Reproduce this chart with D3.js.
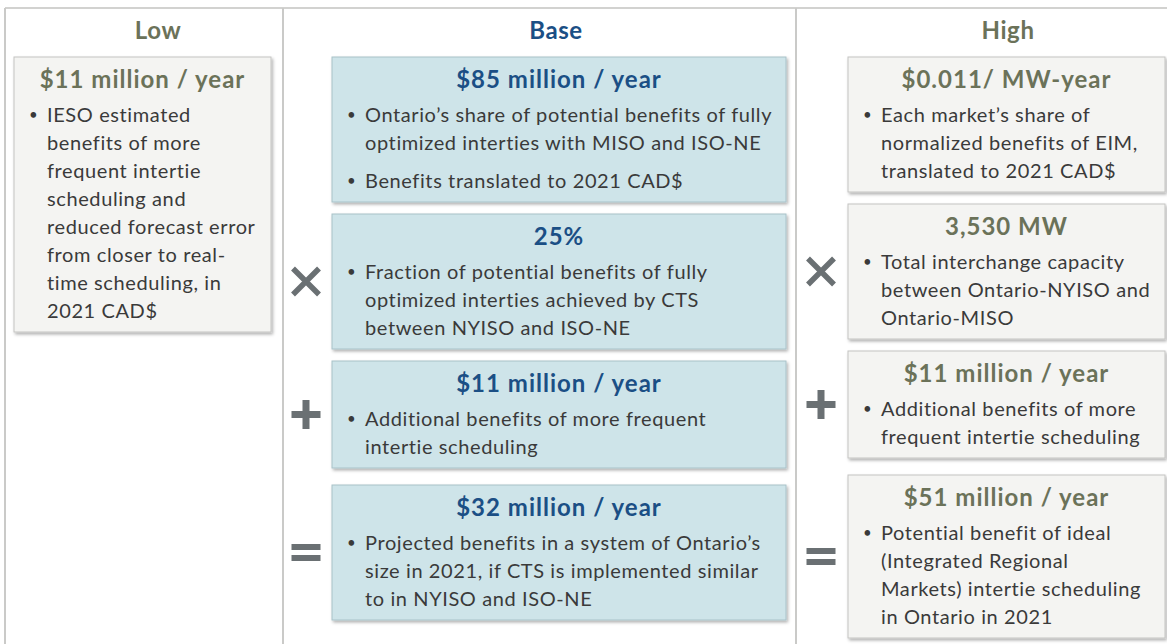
<!DOCTYPE html>
<meta charset="utf-8">
<style>
body { margin: 0; background: #fff; }
svg { display: block; font-family: Lato, "Open Sans", sans-serif; }
.head { font-weight: bold; font-size: 24px; letter-spacing: 0.6px; text-anchor: middle; }
.title { font-weight: bold; font-size: 24px; letter-spacing: 1px; text-anchor: middle; }
.body { font-size: 20px; letter-spacing: 0.6px; fill: #3a3a3a; }
</style>
<svg width="1167" height="644"></svg>
<script src="https://d3js.org/d3.v7.min.js"></script>
<script>

// ---- data ----
var headers = ["Low", "Base", "High"];

var lowBoxes = [
  {title: "$11 million / year",
   bullets: [["IESO estimated", "benefits of more", "frequent intertie", "scheduling and",
              "reduced forecast error", "from closer to real-", "time scheduling, in", "2021 CAD$"]]}
];

var baseBoxes = [
  {title: "$85 million / year",
   bullets: [["Ontario\u2019s share of potential benefits of fully", "optimized interties with MISO and ISO-NE"],
             ["Benefits translated to 2021 CAD$"]]},
  {title: "25%",
   bullets: [["Fraction of potential benefits of fully", "optimized interties achieved by CTS",
              "between NYISO and ISO-NE"]]},
  {title: "$11 million / year",
   bullets: [["Additional benefits of more frequent", "intertie scheduling"]]},
  {title: "$32 million / year",
   bullets: [["Projected benefits in a system of Ontario\u2019s", "size in 2021, if CTS is implemented similar",
              "to in NYISO and ISO-NE"]]}
];

var highBoxes = [
  {title: "$0.011/ MW-year",
   bullets: [["Each market\u2019s share of", "normalized benefits of EIM,", "translated to 2021 CAD$"]]},
  {title: "3,530 MW",
   bullets: [["Total interchange capacity", "between Ontario-NYISO and", "Ontario-MISO"]]},
  {title: "$11 million / year",
   bullets: [["Additional benefits of more", "frequent intertie scheduling"]]},
  {title: "$51 million / year",
   bullets: [["Potential benefit of ideal", "(Integrated Regional", "Markets) intertie scheduling",
              "in Ontario in 2021"]]}
];

// operator placed left of box i (first box has none)
var operators = [null, "x", "+", "="];

// ---- layout / style ----
var svg = d3.select("svg"),
    W = +svg.attr("width"),
    H = +svg.attr("height");

var cols = [
  {x0: 5,   boxX: 14,  boxW: 257, headX: 158, fill: "#f4f4f2", stroke: "#c4c4c2", titleColor: "#6b7259", boxes: lowBoxes},
  {x0: 283, boxX: 332, boxW: 454, headX: 556, fill: "#cee4e9", stroke: "#a8c2c8", titleColor: "#1b4f85", boxes: baseBoxes,
   opX: 306, sepX0: 288, sepX1: 785},
  {x0: 796, boxX: 848, boxW: 317, headX: 1008, fill: "#f4f4f2", stroke: "#c4c4c2", titleColor: "#6b7259", boxes: highBoxes,
   opX: 821, sepX0: 804, sepX1: W}
];

var frameTop = 8, headY = 31, boxTop = 57,
    lineH = 28, paraGap = 10, boxGap = 12, sepGap = 7,
    opColor = "#6a7073", sepColor = "#6c6f5f";

var defs = svg.append("defs");
defs.append("filter").attr("id", "shadow")
    .attr("x", "-5%").attr("y", "-5%").attr("width", "112%").attr("height", "115%")
  .append("feDropShadow")
    .attr("dx", 1.5).attr("dy", 2).attr("stdDeviation", 1.4)
    .attr("flood-color", "#000").attr("flood-opacity", 0.3);

// frame
svg.append("line")
    .attr("x1", 5).attr("x2", W).attr("y1", frameTop).attr("y2", frameTop)
    .attr("stroke", "#d2d2d0").attr("stroke-width", 2);

svg.selectAll(".divider")
    .data(cols)
  .enter().append("line")
    .attr("class", "divider")
    .attr("x1", function(d) { return d.x0; })
    .attr("x2", function(d) { return d.x0; })
    .attr("y1", frameTop).attr("y2", H)
    .attr("stroke", "#cacac8").attr("stroke-width", 2);

// headers
svg.selectAll(".head")
    .data(cols)
  .enter().append("text")
    .attr("class", "head")
    .attr("x", function(d) { return d.headX; })
    .attr("y", headY)
    .attr("dy", "0.35em")
    .attr("fill", function(d) { return d.titleColor; })
    .text(function(d, i) { return headers[i]; });

var boxHeight = function(b) {
  var n = d3.sum(b.bullets, function(p) { return p.length; });
  return 51 + n * lineH + (b.bullets.length - 1) * paraGap;
};

cols.forEach(function(col) {
  var y = boxTop;
  col.boxes.forEach(function(b, i) {
    var isLast = i == col.boxes.length - 1 && i > 0;
    if (isLast) {
      var sy = y - boxGap + sepGap;
      svg.append("line")
          .attr("x1", col.sepX0).attr("x2", col.sepX1)
          .attr("y1", sy).attr("y2", sy)
          .attr("stroke", sepColor).attr("stroke-width", 3)
          .attr("filter", "url(#shadow)");
      y = sy + 10;
    }
    b.y = y;
    b.h = boxHeight(b);
    y += b.h + boxGap;
  });

  var g = svg.append("g");

  var box = g.selectAll(".box")
      .data(col.boxes)
    .enter().append("g")
      .attr("class", "box")
      .attr("transform", function(d) { return "translate(" + col.boxX + "," + d.y + ")"; });

  box.append("rect")
      .attr("width", col.boxW)
      .attr("height", function(d) { return d.h; })
      .attr("fill", col.fill)
      .attr("stroke", col.stroke)
      .attr("stroke-width", 1)
      .attr("filter", "url(#shadow)");

  box.append("text")
      .attr("class", "title")
      .attr("x", col.boxW / 2)
      .attr("y", 23)
      .attr("dy", "0.35em")
      .attr("fill", col.titleColor)
      .text(function(d) { return d.title; });

  box.each(function(d) {
    var sel = d3.select(this), ly = 58;
    d.bullets.forEach(function(p) {
      sel.append("text").attr("class", "body")
          .attr("x", 15).attr("y", ly).attr("dy", "0.35em")
          .style("font-size", "15px")
          .text("\u2022");
      p.forEach(function(line) {
        sel.append("text").attr("class", "body")
            .attr("x", 33).attr("y", ly).attr("dy", "0.35em")
            .text(line);
        ly += lineH;
      });
      ly += paraGap;
    });
  });

  // operators
  if (col.opX) {
    col.boxes.forEach(function(d, i) {
      var op = operators[i];
      if (!op) return;
      var cx = col.opX, cy = d.y + d.h / 2, s = 13;
      var o = g.append("g").attr("stroke", opColor).attr("fill", "none");
      if (op == "x") {
        o.append("path").attr("stroke-width", 5.5)
            .attr("d", "M" + (cx - s) + "," + (cy - s) + "L" + (cx + s) + "," + (cy + s) +
                       "M" + (cx + s) + "," + (cy - s) + "L" + (cx - s) + "," + (cy + s));
      } else if (op == "+") {
        o.append("path").attr("stroke-width", 7)
            .attr("d", "M" + (cx - 14.5) + "," + cy + "H" + (cx + 14.5) +
                       "M" + cx + "," + (cy - 14.5) + "V" + (cy + 14.5));
      } else {
        o.append("path").attr("stroke-width", 6)
            .attr("d", "M" + (cx - 14.5) + "," + (cy - 5.5) + "H" + (cx + 14.5) +
                       "M" + (cx - 14.5) + "," + (cy + 5.5) + "H" + (cx + 14.5));
      }
    });
  }
});

</script>
